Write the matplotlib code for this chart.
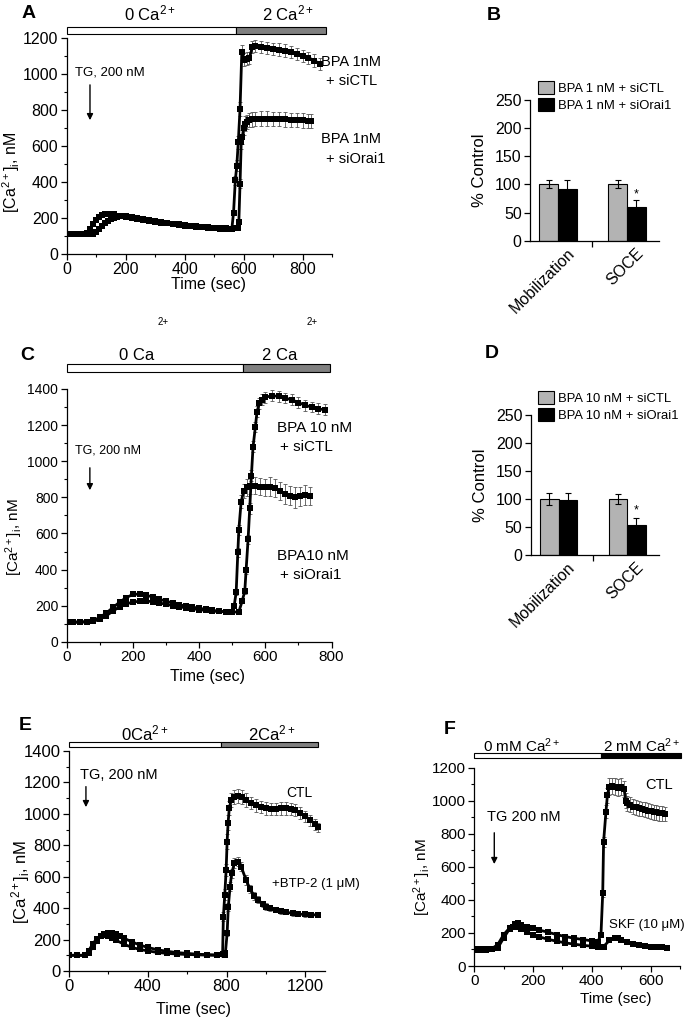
import numpy as np
import matplotlib
matplotlib.use("Agg")
import matplotlib.pyplot as plt
from matplotlib.patches import Rectangle
from matplotlib.ticker import MultipleLocator
from matplotlib.transforms import blended_transform_factory

plt.rcParams['font.family'] = ['Liberation Sans', 'DejaVu Sans']
plt.rcParams['mathtext.fontset'] = 'custom'
plt.rcParams['mathtext.rm'] = 'Liberation Sans'
plt.rcParams['mathtext.it'] = 'Liberation Sans:italic'
plt.rcParams['mathtext.bf'] = 'Liberation Sans:bold'

# ---- panel A : BPA 1 nM (time in s, [Ca2+]i in nM) ----
a_t1 = [0, 20, 40, 60, 70, 80, 90, 100, 110, 120, 130, 140, 150, 160,
        180, 200, 220, 240, 260, 280, 300, 320, 340, 360, 380, 400, 420, 440, 460, 480, 500, 520, 540, 560,
        566, 572, 577, 582, 588, 594, 600, 610, 620, 630, 640,
        660, 680, 700, 720, 740, 760, 780, 800, 820, 840, 860]
a_v1 = [110, 110, 110, 112, 115, 140, 165, 190, 205, 215, 222, 225, 224, 220,
        212, 205, 200, 195, 190, 185, 180, 175, 170, 166, 162, 158, 155, 152, 149, 146, 143, 140, 138, 137,
        230, 410, 490, 620, 805, 1120, 1080, 1085, 1090, 1150, 1155,
        1150, 1145, 1140, 1135, 1130, 1122, 1112, 1100, 1090, 1075, 1055]
a_e1 = [15, 25, 30, 35, 40, 40, 35, 35, 35, 35, 35,
        35, 35, 35, 35, 35, 35, 35, 35, 35, 35, 35]
a_t2 = [0, 20, 40, 60, 80, 90, 100, 110, 120, 130, 140, 150, 160, 170, 180, 190, 200,
        220, 240, 260, 280, 300, 320, 340, 360, 380, 400, 420, 440, 460, 480, 500, 520, 540, 560, 570, 580,
        584, 588, 592, 596, 600, 605, 610, 620, 630, 640,
        660, 680, 700, 720, 740, 760, 780, 800, 820, 830]
a_v2 = [110, 110, 110, 110, 111, 113, 125, 140, 155, 170, 185, 195, 202, 207, 210, 212, 212,
        208, 202, 196, 190, 184, 178, 173, 168, 164, 160, 157, 154, 151, 148, 146, 144, 142, 141, 142, 145,
        180, 390, 620, 650, 700, 725, 735, 745, 748, 750,
        752, 752, 750, 750, 748, 746, 745, 742, 740, 738]
a_e2 = [15, 25, 35, 40, 40, 40, 40, 40, 40, 40,
        40, 40, 40, 40, 40, 40, 40, 40, 40, 40]
a_phase = [0, 575, 880]

# ---- panel C : BPA 10 nM ----
c_t1 = [0, 20, 40, 60, 80, 100, 120, 140, 160, 180, 200, 220, 240, 260, 280, 300, 320, 340, 360, 380,
        400, 420, 440, 460, 480, 500, 506, 512, 517, 520, 527, 535, 545, 555,
        570, 585, 600, 615, 630, 645, 660, 675, 690, 705, 720, 735]
c_v1 = [110, 110, 110, 112, 118, 135, 160, 190, 220, 245, 262, 265, 258, 248, 236, 225, 215, 205, 198, 192,
        186, 180, 174, 170, 166, 163, 200, 274, 495, 619, 776, 835, 855, 865,
        865, 860, 855, 860, 850, 835, 820, 810, 800, 805, 815, 810]
c_e1 = [10, 15, 25, 30, 35, 40, 45, 45, 45, 45, 45, 50, 50, 50, 55, 55, 60, 55, 55, 50]
c_t2 = [0, 20, 40, 60, 80, 100, 120, 140, 160, 180, 200, 220, 240, 260, 280, 300, 320, 340, 360, 380,
        400, 420, 440, 460, 480, 500, 520, 530, 538, 542, 548, 553, 558, 563, 570, 575, 582, 590,
        600, 620, 640, 660, 680, 700, 720, 740, 760, 780]
c_v2 = [108, 108, 108, 110, 113, 125, 145, 170, 195, 210, 220, 225, 226, 222, 215, 208, 200, 194, 188, 183,
        178, 174, 170, 168, 166, 165, 165, 225, 280, 397, 567, 740, 920, 1080, 1190, 1275, 1320, 1340,
        1355, 1362, 1360, 1350, 1340, 1325, 1310, 1300, 1290, 1285]
c_e2 = [10, 15, 20, 25, 30, 30, 30, 30, 30, 30, 30,
        30, 30, 30, 30, 30, 30, 30, 30, 30, 30]
c_phase = [0, 533, 795]

# ---- panel E : CTL vs BTP-2 ----
e_t1 = [0, 40, 80, 100, 120, 140, 160, 180, 200, 220, 240, 280, 320, 360, 400,
        450, 500, 550, 600, 650, 700, 750, 780, 784, 791, 798, 803, 808, 814, 823,
        840, 860, 880, 900, 925, 950, 975, 1000, 1025, 1050, 1075, 1100, 1125, 1150, 1175, 1200, 1225, 1250, 1265]
e_v1 = [100, 100, 100, 130, 170, 205, 225, 230, 222, 210, 195, 170, 150, 137, 128,
        118, 112, 108, 105, 103, 101, 100, 110, 346, 484, 643, 824, 945, 1036, 1089,
        1110, 1115, 1105, 1090, 1070, 1055, 1045, 1035, 1030, 1030, 1035, 1035, 1030, 1025, 1005, 985, 960, 935, 915]
e_e1 = [20, 30, 35, 40, 45, 45, 45, 45, 45, 45, 45, 45, 40, 40,
        40, 40, 40, 40, 40, 40, 40, 40, 40, 35, 35, 35, 30]
e_t2 = [0, 40, 80, 100, 120, 140, 160, 180, 200, 220, 240, 260, 280, 320, 360, 400,
        450, 500, 550, 600, 650, 700, 750, 790, 794, 803, 809, 818, 826, 840, 857, 874, 899,
        920, 940, 960, 983, 1000, 1020, 1051, 1075, 1100, 1135, 1165, 1200, 1230, 1265]
e_v2 = [100, 100, 100, 115, 150, 190, 220, 238, 245, 243, 235, 222, 208, 185, 165, 150,
        135, 125, 117, 112, 107, 104, 102, 100, 113, 240, 410, 537, 622, 686, 696, 665, 580,
        520, 480, 455, 425, 410, 400, 389, 380, 375, 367, 362, 360, 358, 357]
e_e2 = [20, 25, 30, 30, 30, 30, 30, 30, 25, 25, 20,
        20, 20, 15, 15, 15, 15, 15, 15, 15, 15, 15]
e_phase = [0, 772, 1262]

# ---- panel F : CTL vs SKF ----
f_t1 = [0, 20, 40, 60, 80, 100, 120, 140, 150, 160, 180, 200, 220, 250, 280, 310, 340, 370, 400, 420,
        431, 437, 440, 448, 453, 459, 470, 480, 490, 500, 510, 515,
        520, 530, 540, 550, 560, 570, 580, 590, 600, 610, 620, 630, 640, 650]
f_v1 = [95, 100, 98, 105, 130, 190, 230, 252, 258, 250, 238, 228, 218, 205, 190, 178, 168, 160, 152, 147,
        187, 440, 752, 933, 1034, 1085, 1090, 1085, 1080, 1085, 1070, 1000,
        985, 975, 965, 960, 955, 950, 945, 940, 935, 930, 930, 925, 925, 920]
f_e1 = [20, 30, 40, 45, 50, 50, 50, 50, 50, 50, 45, 45, 45,
        45, 45, 45, 45, 45, 45, 45, 45, 45, 45, 45, 45]
f_t2 = [0, 20, 40, 60, 80, 100, 120, 132, 140, 160, 180, 200, 220, 250, 280, 310, 340, 370, 400,
        420, 430, 440, 460, 480, 490, 500, 520, 540, 560, 580, 600, 620, 640, 655]
f_v2 = [100, 95, 100, 100, 110, 170, 225, 238, 235, 222, 205, 190, 177, 162, 150, 140, 132, 125, 120,
        117, 115, 118, 155, 168, 170, 160, 145, 135, 128, 122, 118, 115, 112, 110]
f_e2 = [8, 8, 8, 8, 8, 8, 8, 8, 8, 8, 8, 8, 8]
f_phase = [0, 431, 702]

# ---- bar panels B and D (% control) ----
bar_cats = ['Mobilization', 'SOCE']
b_ctl, b_ctl_e = [100, 100], [7, 7]
b_orai, b_orai_e = [91, 60], [16, 12]
d_ctl, d_ctl_e = [100, 100], [11, 9]
d_orai, d_orai_e = [98, 54], [13, 12]

W, H = 685, 1019
fig = plt.figure(figsize=(6.85, 10.19), dpi=100)


def add_ax(x0, y0, x1, y1):
    return fig.add_axes([x0 / W, 1 - y1 / H, (x1 - x0) / W, (y1 - y0) / H])


def yfrac(ax, ypx):
    pos = ax.get_position()
    return ((1 - pos.y0) * H - ypx) / (pos.height * H)


def style(ax, fs):
    for s in ['top', 'right']:
        ax.spines[s].set_visible(False)
    for s in ['left', 'bottom']:
        ax.spines[s].set_linewidth(0.9)
    ax.tick_params(which='major', direction='out', length=4, width=0.9, labelsize=fs, pad=2)
    ax.tick_params(which='minor', direction='out', length=2, width=0.8)


def trace(ax, t, v, e):
    n = len(e)
    if n:
        ax.errorbar(t[-n:], v[-n:], yerr=e, fmt='none', ecolor='#555555',
                    elinewidth=0.6, capsize=1.6, capthick=0.6, zorder=2)
    ax.plot(t, v, color='k', lw=2.0, marker='s', ms=4.2, mew=0, zorder=3)


def top_bar(ax, edges, y_top, y_bot, right_color, labels, y_lab, fs):
    tr = blended_transform_factory(ax.transData, ax.transAxes)
    f0, f1 = yfrac(ax, y_bot), yfrac(ax, y_top)
    for a, b, c in zip(edges[:-1], edges[1:], ['white', right_color]):
        ax.add_patch(Rectangle((a, f0), b - a, f1 - f0, transform=tr, fc=c, ec='k',
                               lw=0.8, clip_on=False))
    for (x, s) in labels:
        ax.text(x, yfrac(ax, y_lab), s, transform=tr, ha='center', va='center', fontsize=fs)


def tg_arrow(ax, x_txt, y_txt, x_arr, y0, y1, text, fs):
    ax.text(x_txt, y_txt, text, ha='left', va='center', fontsize=fs)
    ax.annotate('', xy=(x_arr, y1), xytext=(x_arr, y0),
                arrowprops=dict(arrowstyle='-|>', color='k', lw=1.0, mutation_scale=9))


ca_label = r'[Ca$^{2+}$]$_{\mathrm{i}}$, nM'

# ---------------- A ----------------
ax = add_ax(66.7, 38, 332, 254)
style(ax, 11.5)
trace(ax, a_t2, a_v2, a_e2)
trace(ax, a_t1, a_v1, a_e1)
ax.set_xlim(0, 900)
ax.set_ylim(0, 1200)
ax.set_xticks([0, 200, 400, 600, 800])
ax.xaxis.set_minor_locator(MultipleLocator(100))
ax.yaxis.set_major_locator(MultipleLocator(200))
ax.yaxis.set_minor_locator(MultipleLocator(100))
ax.set_xlabel('Time (sec)', fontsize=11.5)
ax.xaxis.set_label_coords(0.533, -0.108)
ax.set_ylabel(ca_label, fontsize=11.5)
ax.yaxis.set_label_coords(-0.169, 0.38)
top_bar(ax, a_phase, 27, 34, '#808080', [(282, r'0 Ca$^{2+}$'), (749, r'2 Ca$^{2+}$')], 13, 12)
tg_arrow(ax, 28, 1011, 79, 955, 728, 'TG, 200 nM', 9.5)
ax.text(864, 1067, 'BPA 1nM', fontsize=10.5, va='center', clip_on=False)
ax.text(878, 961, '+ siCTL', fontsize=10.5, va='center', clip_on=False)
ax.text(864, 639, 'BPA 1nM', fontsize=10.5, va='center', clip_on=False)
ax.text(878, 528, '+ siOrai1', fontsize=10.5, va='center', clip_on=False)


# ---------------- B / D ----------------
def bar_panel(ax, ctl, ctl_e, orai, orai_e, star_y, names, leg_y):
    style(ax, 11.5)
    x = np.arange(len(bar_cats))
    ekw = dict(elinewidth=0.8, capthick=0.8, ecolor='k')
    ax.bar(x - 0.135, ctl, 0.27, yerr=ctl_e, color='#b3b3b3', edgecolor='k', lw=0.8,
           capsize=2.5, error_kw=ekw, label=names[0])
    ax.bar(x + 0.135, orai, 0.27, yerr=orai_e, color='k', edgecolor='k', lw=0.8,
           capsize=2.5, error_kw=ekw, label=names[1])
    ax.text(1.135, star_y, '*', ha='center', va='center', fontsize=9)
    ax.set_xlim(-0.406, 1.464)
    ax.set_ylim(0, 250)
    ax.yaxis.set_major_locator(MultipleLocator(50))
    ax.yaxis.set_minor_locator(MultipleLocator(25))
    ax.tick_params(axis='y', which='minor', length=0)
    ax.set_xticks([0.5])
    ax.set_xticklabels([''])
    tr = blended_transform_factory(ax.transData, ax.transAxes)
    for i, c in enumerate(bar_cats):
        ax.text(i + 0.13, -0.035, c, transform=tr, rotation=45, ha='right', va='top',
                rotation_mode='anchor', fontsize=11.5)
    ax.set_ylabel('% Control', fontsize=12)
    ax.yaxis.set_label_coords(-0.33, 0.5)
    ax.legend(loc='upper left', bbox_to_anchor=(538 / W, 1 - leg_y / H),
              bbox_transform=fig.transFigure, frameon=False, fontsize=9.4,
              handlelength=1.2, handleheight=1.2, handletextpad=0.3, labelspacing=0.2,
              borderaxespad=0, borderpad=0)


ax = add_ax(530, 100, 659, 240.7)
bar_panel(ax, b_ctl, b_ctl_e, b_orai, b_orai_e, 83,
          ['BPA 1 nM + siCTL', 'BPA 1 nM + siOrai1'], 81)

ax = add_ax(530.7, 415, 659, 555)
bar_panel(ax, d_ctl, d_ctl_e, d_orai, d_orai_e, 79,
          ['BPA 10 nM + siCTL', 'BPA 10 nM + siOrai1'], 391)

# ---------------- C ----------------
ax = add_ax(66.7, 389, 331.5, 641.8)
style(ax, 10)
trace(ax, c_t2, c_v2, c_e2)
trace(ax, c_t1, c_v1, c_e1)
ax.set_xlim(0, 800)
ax.set_ylim(0, 1400)
ax.xaxis.set_major_locator(MultipleLocator(200))
ax.xaxis.set_minor_locator(MultipleLocator(100))
ax.yaxis.set_major_locator(MultipleLocator(200))
ax.yaxis.set_minor_locator(MultipleLocator(100))
ax.tick_params(labelsize=11, axis='x')
ax.set_xlabel('Time (sec)', fontsize=11.5)
ax.xaxis.set_label_coords(0.53, -0.107)
ax.set_ylabel(ca_label, fontsize=11)
ax.yaxis.set_label_coords(-0.157, 0.415)
top_bar(ax, c_phase, 364, 372, '#808080', [(211, '0 Ca'), (642, '2 Ca')], 355, 12)
tg_arrow(ax, 25, 1062, 70, 979, 824, 'TG, 200 nM', 9)
ax.text(635, 1184, 'BPA 10 nM', fontsize=11, va='center', clip_on=False)
ax.text(644, 1078, '+ siCTL', fontsize=11, va='center', clip_on=False)
ax.text(635, 475, 'BPA10 nM', fontsize=11, va='center', clip_on=False)
ax.text(644, 370, '+ siOrai1', fontsize=11, va='center', clip_on=False)

# ---------------- E ----------------
ax = add_ax(69, 751, 325, 971)
style(ax, 12)
trace(ax, e_t2, e_v2, e_e2)
trace(ax, e_t1, e_v1, e_e1)
ax.set_xlim(0, 1300)
ax.set_ylim(0, 1400)
ax.xaxis.set_major_locator(MultipleLocator(400))
ax.xaxis.set_minor_locator(MultipleLocator(200))
ax.yaxis.set_major_locator(MultipleLocator(200))
ax.yaxis.set_minor_locator(MultipleLocator(100))
ax.set_xlabel('Time (sec)', fontsize=11.5)
ax.xaxis.set_label_coords(0.485, -0.141)
ax.set_ylabel(ca_label, fontsize=12)
ax.yaxis.set_label_coords(-0.145, 0.405)
top_bar(ax, e_phase, 742, 747, '#808080', [(386, r'0Ca$^{2+}$'), (1030, r'2Ca$^{2+}$')], 733, 12)
tg_arrow(ax, 56, 1248, 86, 1191, 1025, 'TG, 200 nM', 10.5)
ax.text(1172, 1134, 'CTL', fontsize=10, ha='center', va='center')
ax.text(1029, 554, '+BTP-2 (1 μM)', fontsize=9.5, va='center', clip_on=False)

# ---------------- F ----------------
ax = add_ax(474.3, 767.7, 680, 966)
style(ax, 11)
trace(ax, f_t2, f_v2, f_e2)
trace(ax, f_t1, f_v1, f_e1)
ax.set_xlim(0, 700)
ax.set_ylim(0, 1200)
ax.xaxis.set_major_locator(MultipleLocator(200))
ax.xaxis.set_minor_locator(MultipleLocator(100))
ax.yaxis.set_major_locator(MultipleLocator(200))
ax.yaxis.set_minor_locator(MultipleLocator(100))
ax.set_xlabel('Time (sec)', fontsize=11)
ax.xaxis.set_label_coords(0.69, -0.131)
ax.set_ylabel(ca_label, fontsize=11)
ax.yaxis.set_label_coords(-0.2, 0.45)
top_bar(ax, f_phase, 753, 758, 'black', [(160, r'0 mM Ca$^{2+}$'), (570, r'2 mM Ca$^{2+}$')], 746, 11)
tg_arrow(ax, 42, 900, 68, 823, 600, 'TG 200 nM', 10.5)
ax.text(583, 1095, 'CTL', fontsize=10.5, va='center')
ax.text(459, 248, 'SKF (10 μM)', fontsize=9.5, va='center', clip_on=False)

# panel letters and stray superscripts
for (x, y, s) in [(29, 14, 'A'), (494, 15, 'B'), (27, 355, 'C'), (492, 354, 'D'),
                  (25, 725, 'E'), (450, 730, 'F')]:
    fig.text(x / W, 1 - y / H, s, fontsize=14, fontweight='bold', ha='center', va='center')
for x in [163, 312]:
    fig.text(x / W, 1 - 322 / H, '2+', fontsize=7, ha='center', va='center')

fig.savefig('out.png', dpi=100)
